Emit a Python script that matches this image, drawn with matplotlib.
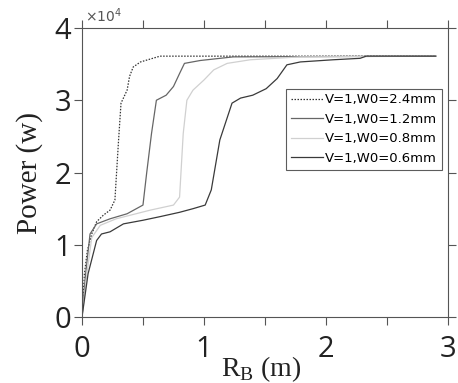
import matplotlib
matplotlib.use("Agg")
import matplotlib.pyplot as plt
import numpy as np
from matplotlib.ticker import MultipleLocator, FuncFormatter

# curves, x in m, power in W
x_24 = [0, 0.02, 0.044, 0.08, 0.12, 0.175, 0.23, 0.27, 0.28, 0.30, 0.32, 0.37, 0.39, 0.42, 0.48, 0.56, 0.64, 2.9]
p_24 = [0, 6000, 9200, 11500, 13200, 14100, 14800, 16200, 19000, 24500, 29600, 31400, 33300, 34600, 35300, 35700, 36100, 36100]

x_12 = [0, 0.03, 0.066, 0.12, 0.23, 0.37, 0.50, 0.53, 0.57, 0.61, 0.69, 0.75, 0.80, 0.84, 0.97, 1.24, 2.9]
p_12 = [0, 6000, 11500, 12900, 13600, 14300, 15500, 19900, 25400, 30000, 30700, 31900, 33700, 35100, 35500, 36000, 36100]

x_08 = [0, 0.04, 0.08, 0.15, 0.28, 0.56, 0.75, 0.80, 0.83, 0.86, 0.91, 1.0, 1.08, 1.19, 1.38, 1.79, 2.9]
p_08 = [0, 6000, 11000, 12700, 13600, 14800, 15500, 16600, 25400, 30000, 31400, 32800, 34200, 35100, 35600, 36000, 36100]

x_06 = [0, 0.05, 0.12, 0.16, 0.23, 0.34, 0.5, 0.64, 0.80, 0.91, 1.01, 1.06, 1.13, 1.23, 1.30, 1.40, 1.51, 1.60,
        1.68, 1.79, 2.06, 2.28, 2.33, 2.9]
p_06 = [0, 6000, 10600, 11500, 11800, 12900, 13400, 13900, 14500, 15000, 15500, 17600, 24500, 29600, 30300,
        30700, 31600, 33000, 34900, 35300, 35600, 35800, 36100, 36100]

labels = ["V=1,W0=2.4mm", "V=1,W0=1.2mm", "V=1,W0=0.8mm", "V=1,W0=0.6mm"]

fig = plt.figure(figsize=(4.58, 3.83), dpi=100)
ax = fig.add_axes([0.179, 0.172, 0.799, 0.755])

ax.plot(x_24, p_24, color="#333333", lw=0.9, ls=(0, (1.2, 1.2)), label=labels[0])
ax.plot(x_12, p_12, color="#666666", lw=0.9, label=labels[1])
ax.plot(x_08, p_08, color="#d0d0d0", lw=0.9, label=labels[2])
ax.plot(x_06, p_06, color="#3a3a3a", lw=0.9, label=labels[3])

ax.set_xlim(0, 3)
ax.set_ylim(0, 40000)
ax.xaxis.set_major_locator(MultipleLocator(0.5))
ax.yaxis.set_major_locator(MultipleLocator(10000))
ax.xaxis.set_major_formatter(FuncFormatter(lambda v, p: "%d" % v if abs(v - round(v)) < 1e-6 else ""))
ax.yaxis.set_major_formatter(FuncFormatter(lambda v, p: "%d" % round(v / 10000)))
ax.tick_params(direction="out", top=True, right=True, length=6, width=0.8,
               labelsize=21, color="#555555", labelcolor="#222222")
ax.tick_params(axis="x", pad=7)
ax.tick_params(axis="y", pad=2)
for lab in ax.get_xticklabels() + ax.get_yticklabels():
    lab.set_family("Open Sans")
for s in ax.spines.values():
    s.set_color("#555555")
    s.set_linewidth(0.8)

ax.text(0.008, 1.01, r"$\times10^4$", transform=ax.transAxes, fontsize=10, color="#555555",
        va="bottom", ha="left")

ax.set_ylabel("Power (w)", fontsize=21, family="Liberation Serif", labelpad=8, color="#222222")
ax.set_xlabel(r"R$_\mathregular{B}$ (m)", fontsize=20, family="Liberation Serif", color="#222222")
ax.xaxis.set_label_coords(0.49, -0.13)

leg = ax.legend(loc="upper right", bbox_to_anchor=(0.984, 0.79), fontsize=9.5, frameon=True,
                fancybox=False, edgecolor="#333333", handlelength=2.4, borderpad=0.35,
                labelspacing=0.5, handletextpad=0.2, borderaxespad=0)
leg.get_frame().set_linewidth(0.8)

fig.savefig("out.png", dpi=100)
